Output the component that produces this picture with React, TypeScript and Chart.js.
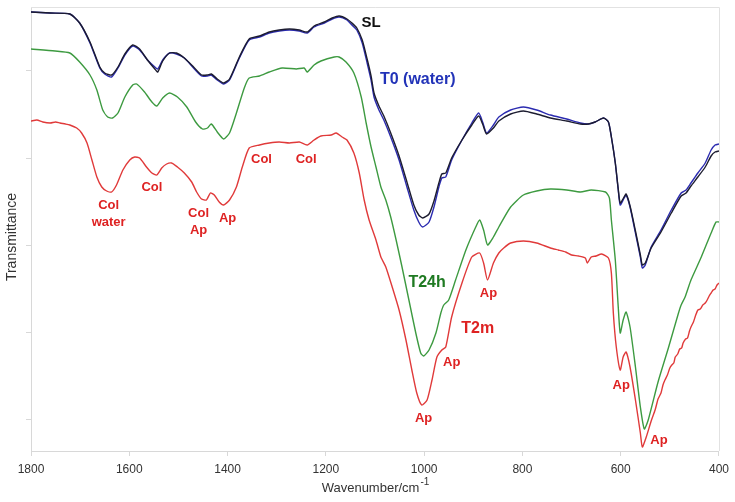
import React, { useEffect, useRef } from "react";
import { Chart, registerables } from "chart.js";

Chart.register(...registerables);

// Wavenumber (cm-1) and transmittance (arbitrary units)
const SL: [number, number][] = [
  [1800,439],[1761,438],[1721,437],[1701,428],[1680,409],[1660,384],[1650,378],[1636,376],[1623,384],[1609,397],[1593,406],[1579,402],[1563,391],[1548,382],[1542,379],[1532,390],[1518,398],[1504,398],[1488,393],[1471,385],[1453,376],[1441,376],[1433,377],[1421,372],[1408,368],[1396,372],[1376,394],[1356,412],[1335,415],[1315,419],[1295,421],[1274,422],[1254,421],[1238,419],[1224,425],[1203,429],[1187,433],[1173,435],[1157,432],[1147,428],[1137,423],[1126,411],[1116,392],[1108,375],[1102,358],[1092,345],[1082,335],[1068,318],[1051,295],[1035,269],[1021,246],[1011,236],[1003,233],[990,237],[980,250],[970,268],[964,277],[956,278],[944,293],[923,311],[903,326],[889,335],[881,327],[873,317],[859,323],[848,330],[824,337],[798,340],[771,337],[743,333],[710,330],[682,327],[666,327],[652,329],[635,333],[625,329],[619,314],[611,288],[605,262],[601,248],[593,254],[589,257],[581,245],[570,220],[560,196],[556,186],[550,188],[538,203],[518,219],[497,238],[477,255],[467,258],[457,265],[443,274],[428,284],[416,295],[408,299],[400,300]
];

const T0_WATER: [number, number][] = [
  [1800,439],[1761,438],[1721,437],[1701,428],[1680,408],[1660,383],[1650,377],[1636,374],[1623,383],[1609,396],[1593,405],[1579,401],[1563,391],[1548,384],[1542,382],[1532,391],[1518,398],[1504,397],[1488,393],[1471,384],[1453,375],[1441,375],[1433,376],[1421,371],[1408,367],[1396,371],[1376,393],[1356,411],[1335,414],[1315,418],[1295,420],[1274,421],[1254,420],[1238,418],[1224,424],[1203,428],[1187,432],[1173,434],[1157,431],[1147,426],[1137,421],[1126,408],[1116,388],[1108,371],[1102,354],[1092,341],[1082,331],[1068,314],[1051,291],[1035,264],[1021,241],[1011,229],[1003,224],[990,229],[980,244],[970,264],[964,273],[956,274],[944,291],[923,311],[903,328],[889,338],[881,329],[873,318],[859,326],[848,334],[824,341],[798,344],[771,341],[743,336],[710,332],[682,328],[666,327],[652,329],[635,333],[625,329],[619,314],[611,288],[605,261],[601,246],[593,253],[589,256],[581,244],[570,218],[560,194],[556,183],[550,186],[538,204],[518,221],[497,241],[477,258],[467,261],[457,268],[443,278],[428,288],[416,301],[408,306],[400,307]
];

const T24H: [number, number][] = [
  [1800,402],[1751,400],[1721,398],[1701,389],[1680,376],[1666,361],[1654,341],[1644,334],[1634,333],[1623,338],[1609,354],[1593,366],[1585,367],[1569,359],[1554,349],[1544,345],[1532,353],[1518,358],[1502,354],[1483,344],[1465,329],[1451,322],[1441,323],[1433,327],[1421,319],[1408,312],[1396,318],[1382,338],[1366,363],[1356,373],[1335,375],[1315,379],[1289,383],[1260,382],[1244,383],[1238,379],[1224,386],[1210,390],[1183,394],[1173,394],[1159,389],[1143,378],[1128,354],[1118,328],[1108,304],[1098,284],[1088,264],[1078,251],[1068,234],[1057,211],[1045,184],[1031,151],[1017,118],[1007,98],[1001,95],[990,101],[976,118],[966,138],[960,146],[950,151],[936,171],[915,201],[895,224],[887,231],[879,221],[871,206],[859,214],[848,224],[824,244],[798,256],[771,260],[743,262],[710,261],[682,259],[660,261],[631,259],[623,253],[619,231],[611,191],[605,144],[601,118],[595,131],[589,139],[581,124],[570,84],[560,44],[552,22],[544,31],[524,69],[503,103],[483,137],[477,146],[469,154],[457,171],[436,194],[416,218],[406,229],[400,229]
];

const T2M: [number, number][] = [
  [1800,330],[1788,331],[1776,329],[1761,328],[1750,329],[1741,328],[1730,327],[1721,326],[1707,323],[1697,318],[1686,308],[1676,291],[1666,274],[1656,264],[1646,260],[1636,259],[1626,266],[1613,281],[1599,291],[1589,294],[1579,293],[1565,284],[1554,278],[1544,276],[1534,283],[1524,287],[1514,288],[1502,284],[1488,278],[1473,269],[1463,259],[1453,252],[1443,251],[1435,258],[1427,256],[1417,249],[1408,246],[1396,251],[1382,264],[1370,284],[1356,303],[1335,306],[1315,308],[1295,309],[1274,308],[1254,309],[1238,306],[1224,311],[1210,315],[1189,316],[1179,318],[1167,314],[1157,311],[1143,298],[1132,278],[1122,251],[1112,231],[1098,211],[1088,194],[1078,184],[1065,164],[1051,141],[1037,111],[1025,81],[1015,58],[1005,46],[994,51],[984,71],[974,94],[964,101],[956,104],[944,134],[923,168],[903,194],[887,198],[879,188],[871,171],[859,188],[848,198],[838,203],[824,208],[798,210],[771,208],[743,203],[727,201],[712,199],[700,196],[686,195],[672,193],[668,188],[660,194],[650,195],[639,197],[625,193],[619,178],[615,138],[609,104],[601,81],[595,94],[589,99],[581,84],[570,51],[560,18],[556,4],[548,14],[538,30],[530,41],[524,52],[518,58],[514,66],[510,71],[505,76],[500,83],[496,86],[492,88],[489,94],[484,97],[480,102],[476,103],[473,108],[468,112],[464,113],[460,120],[457,124],[452,129],[448,135],[443,141],[438,142],[433,146],[428,148],[424,151],[420,155],[416,158],[412,161],[408,162],[404,166],[400,168]
];

const X_MIN = 400;
const X_MAX = 1800;
const X_STEP = 200;
const Y_MIN = 0;
const Y_MAX = 444;
const Y_TICKS = [32, 119, 206, 293, 380.5];

const SERIES_NAMES = ["SL", "T0 (water)", "T24h", "T2m"];

// labels: text lines, wavenumber, value
const BAND_LABELS: { lines: string[]; x: number; y: number }[] = [
  { lines: ["Col", "water"], x: 1642, y: 246 },
  { lines: ["Col"], x: 1554, y: 264 },
  { lines: ["Col", "Ap"], x: 1459, y: 238 },
  { lines: ["Ap"], x: 1400, y: 233 },
  { lines: ["Col"], x: 1331, y: 292 },
  { lines: ["Col"], x: 1240, y: 292 },
  { lines: ["Ap"], x: 944, y: 89 },
  { lines: ["Ap"], x: 1001, y: 33 },
  { lines: ["Ap"], x: 869, y: 158 },
  { lines: ["Ap"], x: 599, y: 66 },
  { lines: ["Ap"], x: 522, y: 11 },
];

const SERIES_LABELS: { text: string; x: number; y: number; color: string; size: number }[] = [
  { text: "SL", x: 1108, y: 428, color: "#111111", size: 15 },
  { text: "T0 (water)", x: 1013, y: 371, color: "#2233b8", size: 16 },
  { text: "T24h", x: 994, y: 168, color: "#1f7a22", size: 16 },
  { text: "T2m", x: 891, y: 122, color: "#de2222", size: 16 },
];

const FONT = "'Liberation Sans', Arial, Helvetica, sans-serif";

export default function App() {
  const ref = useRef<HTMLCanvasElement | null>(null);

  useEffect(() => {
    document.body.style.margin = "0";
    const canvas = ref.current;
    if (!canvas) return;

    const toPts = (arr: [number, number][]) => arr.map(([x, y]) => ({ x, y }));

    const annot = {
      id: "annot",
      afterDraw(chart: any) {
        const { ctx, chartArea, scales } = chart;
        const xs = scales.x;
        const ys = scales.y;
        ctx.save();
        // frame top & right
        ctx.strokeStyle = "#e2e2e2";
        ctx.lineWidth = 1;
        ctx.beginPath();
        ctx.moveTo(chartArea.left, chartArea.top + 0.5);
        ctx.lineTo(chartArea.right + 0.5, chartArea.top + 0.5);
        ctx.lineTo(chartArea.right + 0.5, chartArea.bottom);
        ctx.stroke();

        ctx.textAlign = "center";
        ctx.textBaseline = "middle";
        // band labels
        ctx.fillStyle = "#de2222";
        ctx.font = `bold 13px ${FONT}`;
        for (const l of BAND_LABELS) {
          const px = xs.getPixelForValue(l.x);
          const py = ys.getPixelForValue(l.y);
          l.lines.forEach((t, i) => ctx.fillText(t, px, py + i * 17));
        }
        // series labels
        for (const s of SERIES_LABELS) {
          ctx.fillStyle = s.color;
          ctx.font = `bold ${s.size}px ${FONT}`;
          ctx.fillText(s.text, xs.getPixelForValue(s.x), ys.getPixelForValue(s.y));
        }
        // y title
        ctx.fillStyle = "#333333";
        ctx.font = `14px ${FONT}`;
        ctx.save();
        ctx.translate(12, (chartArea.top + chartArea.bottom) / 2 + 8);
        ctx.rotate(-Math.PI / 2);
        ctx.fillText("Transmittance", 0, 0);
        ctx.restore();
        // x title with superscript
        const main = "Wavenumber/cm";
        const sup = "-1";
        ctx.font = `13px ${FONT}`;
        const w1 = ctx.measureText(main).width;
        ctx.font = `10px ${FONT}`;
        const w2 = ctx.measureText(sup).width;
        const cx = (chartArea.left + chartArea.right) / 2;
        const startX = cx - (w1 + w2) / 2;
        ctx.textAlign = "left";
        ctx.font = `13px ${FONT}`;
        ctx.fillText(main, startX, 488);
        ctx.font = `10px ${FONT}`;
        ctx.fillText(sup, startX + w1 + 1, 482);
        ctx.restore();
      },
    };

    const chart = new Chart(canvas, {
      type: "line",
      data: {
        datasets: [
          { label: SERIES_NAMES[0], data: toPts(SL), borderColor: "#1c1c30" },
          { label: SERIES_NAMES[1], data: toPts(T0_WATER), borderColor: "#2b2bb0" },
          { label: SERIES_NAMES[2], data: toPts(T24H), borderColor: "#3d9a40" },
          { label: SERIES_NAMES[3], data: toPts(T2M), borderColor: "#e03a3a" },
        ].map((d) => ({ ...d, borderWidth: 1.4, pointRadius: 0, fill: false, tension: 0.2 })),
      },
      options: {
        animation: false,
        responsive: false,
        maintainAspectRatio: false,
        layout: { padding: { top: 7, right: 14, left: 0, bottom: 0 } },
        plugins: { legend: { display: false }, tooltip: { enabled: false } },
        scales: {
          x: {
            type: "linear",
            reverse: true,
            min: X_MIN,
            max: X_MAX,
            ticks: {
              stepSize: X_STEP,
              color: "#333333",
              font: { family: FONT, size: 12 },
              padding: 6,
              maxRotation: 0,
              callback: (v: any) => String(v),
            },
            grid: { drawOnChartArea: false, drawTicks: true, tickLength: 5, color: "#d8d8d8" },
            border: { display: true, color: "#d8d8d8" },
            afterFit: (s: any) => { s.height = 51; },
          },
          y: {
            type: "linear",
            min: Y_MIN,
            max: Y_MAX,
            ticks: { display: false },
            afterBuildTicks: (axis: any) => { axis.ticks = Y_TICKS.map((v) => ({ value: v })); },
            grid: { drawOnChartArea: false, drawTicks: true, tickLength: 5, color: "#d8d8d8" },
            border: { display: true, color: "#d8d8d8" },
            afterFit: (s: any) => { s.width = 31; },
          },
        },
      },
      plugins: [annot],
    } as any);

    return () => chart.destroy();
  }, []);

  return <canvas ref={ref} width={735} height={502} style={{ display: "block" }} />;
}
